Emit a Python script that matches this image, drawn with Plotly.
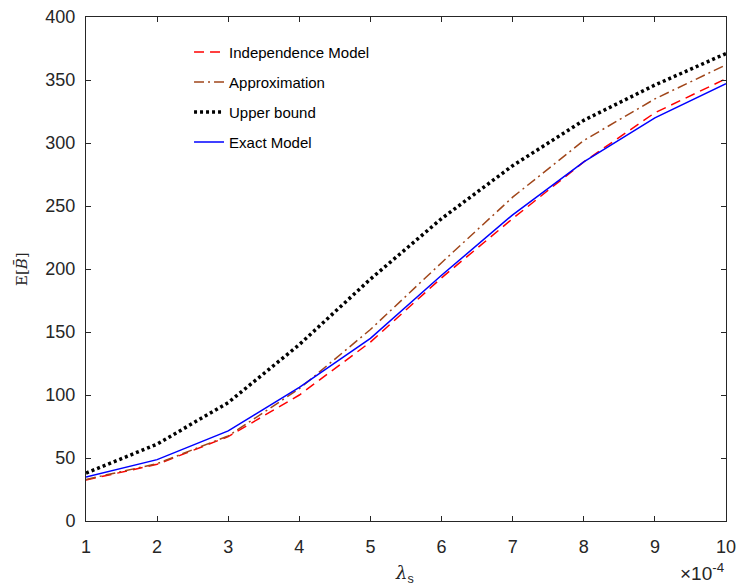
import plotly.graph_objects as go

lam = [1, 2, 3, 4, 5, 6, 7, 8, 9, 10]
indep = [32.5, 45, 67, 100, 142, 193, 240, 285, 324, 351]
approx = [33, 45.5, 67.5, 105, 152, 205, 257, 302, 335, 362]
upper = [38, 61, 94, 140, 192, 240, 282, 318, 346, 371]
exact = [35, 48.7, 71.5, 106, 145, 195, 243, 285, 320, 347]

axc = "#262626"
fig = go.Figure()
fig.add_trace(go.Scatter(x=lam, y=indep, mode="lines", name="Independence Model",
                         line=dict(color="#FF0000", width=1.5, dash="10px,6px")))
fig.add_trace(go.Scatter(x=lam, y=approx, mode="lines", name="Approximation",
                         line=dict(color="#A0461A", width=1.5, dash="10px,4px,2px,4px")))
fig.add_trace(go.Scatter(x=lam, y=upper, mode="lines", name="Upper bound",
                         line=dict(color="#000000", width=3.5, dash="3px,3px")))
fig.add_trace(go.Scatter(x=lam, y=exact, mode="lines", name="Exact Model",
                         line=dict(color="#0000FF", width=1.5)))

axis_common = dict(showline=True, linecolor=axc, linewidth=1, mirror="ticks",
                   ticks="inside", ticklen=5, tickcolor=axc, showgrid=False, zeroline=False,
                   automargin=False,
                   tickfont=dict(family="Liberation Sans, Arial", size=18, color=axc))
fig.update_xaxes(range=[1, 10], dtick=1, tick0=1, ticklabelstandoff=9, **axis_common)
fig.update_yaxes(range=[0, 400], dtick=50, tick0=0, ticklabelstandoff=6, **axis_common)

fig.update_layout(
    width=740, height=588,
    margin=dict(l=86, r=14, t=17, b=67, autoexpand=False),
    plot_bgcolor="white", paper_bgcolor="white",
    font=dict(family="Liberation Sans, Arial", color=axc),
    legend=dict(x=0.161, y=0.963, xanchor="left", yanchor="top",
                bgcolor="rgba(0,0,0,0)", borderwidth=0,
                font=dict(size=15, color="#000000"),
                tracegroupgap=7.5),
    showlegend=True,
)
for i, tr in enumerate(fig.data):
    tr.legendgroup = f"g{i}"

fig.add_annotation(xref="paper", yref="paper", x=-0.1, y=0.5, xanchor="center", yanchor="middle",
                   text="E[<i>B̄</i>]", textangle=-90, showarrow=False,
                   font=dict(family="DejaVu Serif, serif", size=15, color=axc))
fig.add_annotation(xref="paper", yref="paper", x=0.498, y=-0.078, xanchor="center", yanchor="top",
                   text="<span style='font-family:DejaVu Serif'><i>λ</i></span><sub>s</sub>",
                   showarrow=False, font=dict(size=18, color=axc))
fig.add_annotation(xref="paper", yref="paper", x=1.0, y=-0.129, xanchor="right", yanchor="bottom",
                   text="×10<sup>-4</sup>", showarrow=False,
                   font=dict(size=19, color=axc))

fig.write_html("out.html")
